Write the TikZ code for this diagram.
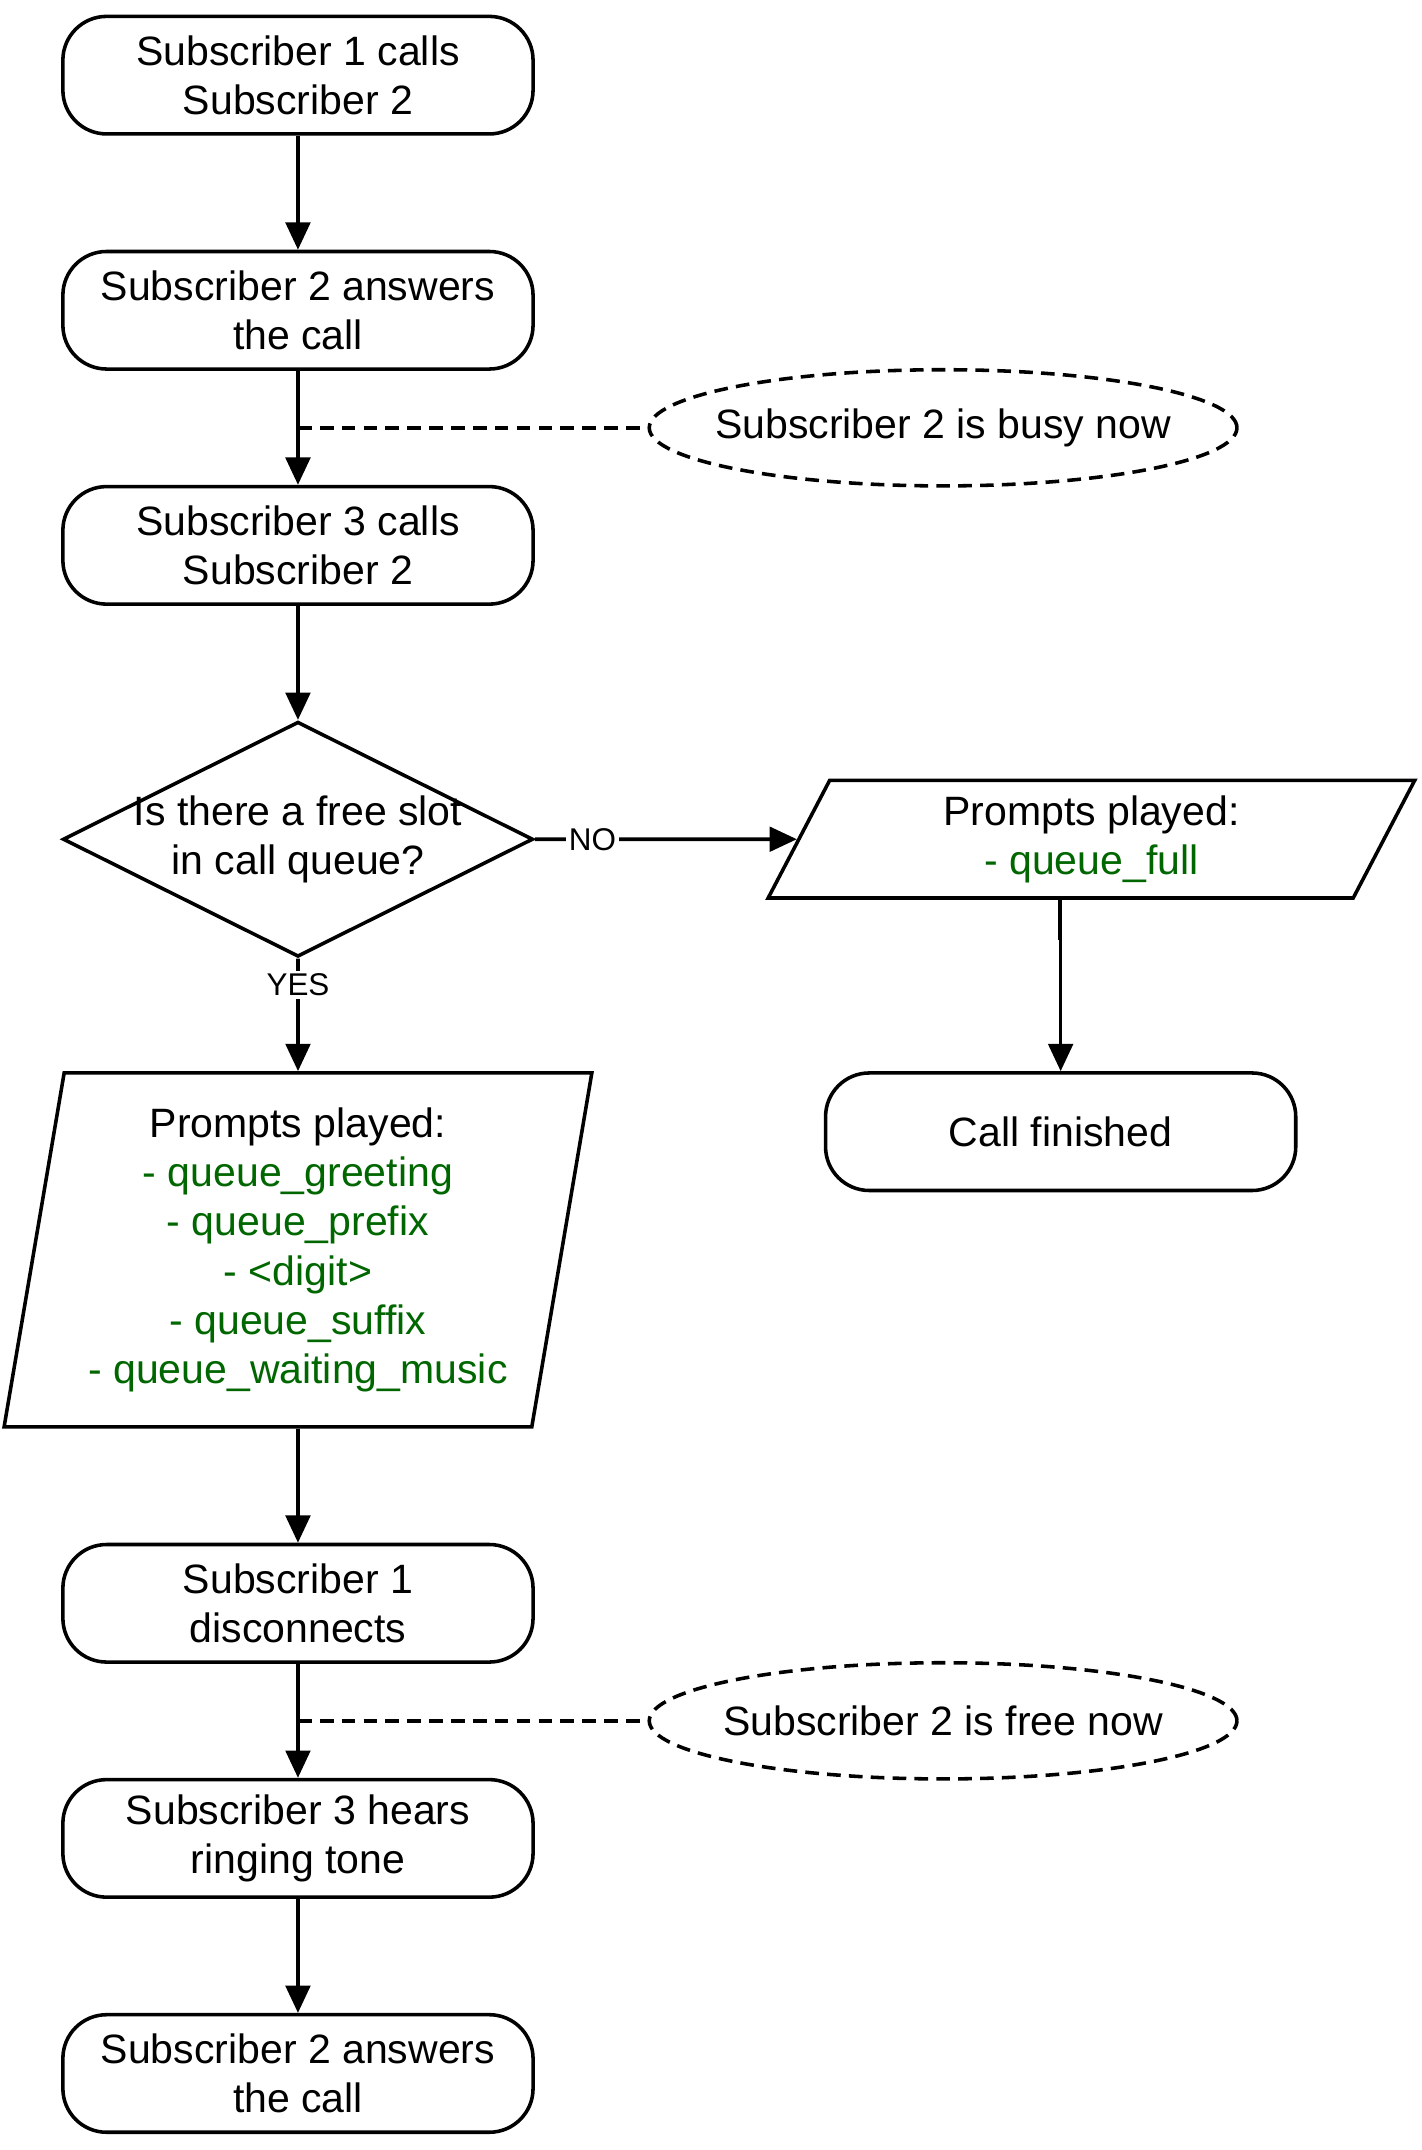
\documentclass[tikz,border=0pt]{standalone}
\usepackage{fontspec}
\setmainfont{Liberation Sans}
\usetikzlibrary{shapes.geometric,arrows.meta,calc}
\definecolor{promptgreen}{RGB}{0,102,0}

\begin{document}
\begin{tikzpicture}[x=0.5pt,y=-0.5pt,font=\fontsize{15}{18}\selectfont]
\useasboundingbox (0,0) rectangle (1040,1573);
\tikzset{BoxStyle/.style ={draw, line width=1.3pt, rounded corners=16pt, minimum width=172pt, minimum height=43pt, align=center, inner sep=2pt}}
\tikzset{DecisionStyle/.style ={draw, line width=1.3pt, diamond, minimum width=172pt, minimum height=86pt, inner sep=0}}
\tikzset{PromptStyle/.style ={draw, line width=1.3pt, trapezium, trapezium stretches body=true, align=center, inner ysep=2pt}}
\tikzset{NoteStyle/.style ={draw, line width=1.3pt, dash pattern=on 5pt off 3pt, ellipse, inner sep=0, minimum width=215pt, minimum height=42.5pt}}
\tikzset{EdgeStyle/.style ={line width=1.3pt, -{Triangle[length=10pt,width=9pt]}}}
\tikzset{NoteEdge/.style ={line width=1.3pt, dash pattern=on 5pt off 3pt}}
\tikzset{AnswerStyle/.style ={font=\fontsize{11.5}{13}\selectfont, fill=white, inner sep=1pt}}
\node[BoxStyle] (A) at (218,55) {Subscriber 1 calls\\Subscriber 2};
\node[BoxStyle] (B) at (218,227) {Subscriber 2 answers\\the call};
\node[BoxStyle] (C) at (218,399) {Subscriber 3 calls\\Subscriber 2};
\node[DecisionStyle, label={[align=center]center:Is there a free slot\\in call queue?}] (Q) at (218,614) {};
\node[PromptStyle, trapezium left angle=58, trapezium right angle=122, minimum width=236.5pt, minimum height=43pt] (P1) at (798.5,614) {Prompts played:\\\textcolor{promptgreen}{- queue\_full}};
\node[BoxStyle] (end) at (776,828) {Call finished};
\node[PromptStyle, trapezium left angle=78.5, trapezium right angle=101.5, minimum width=215pt, minimum height=129.5pt] (P2) at (218,914.5) {Prompts played:\\\color{promptgreen}- queue\_greeting\\\color{promptgreen}- queue\_prefix\\\color{promptgreen}- \textless digit\textgreater\\\color{promptgreen}- queue\_suffix\\\color{promptgreen}- queue\_waiting\_music};
\node[BoxStyle] (D) at (218,1173) {Subscriber 1\\disconnects};
\node[BoxStyle] (E) at (218,1345) {Subscriber 3 hears\\ringing tone};
\node[BoxStyle] (F) at (218,1517) {Subscriber 2 answers\\the call};
\node[NoteStyle, label=center:Subscriber 2 is busy now] (note1) at (690,313) {};
\node[NoteStyle, label=center:Subscriber 2 is free now] (note2) at (690,1259) {};
\coordinate (busy) at ($(B.south)!0.5!(C.north)$);
\coordinate (free) at ($(D.south)!0.5!(E.north)$);
\draw[EdgeStyle] (A) -- (B);
\draw[EdgeStyle] (B) -- (C);
\draw[EdgeStyle] (C) -- (Q);
\draw[EdgeStyle] (Q) -- node[AnswerStyle, pos=0.22] {NO} (P1);
\draw[EdgeStyle] (P1.bottom side) -- ++(0,28) -| (end);
\draw[EdgeStyle] (Q) -- node[AnswerStyle, pos=0.235] {YES} (P2);
\draw[EdgeStyle] (P2) -- (D);
\draw[EdgeStyle] (D) -- (E);
\draw[EdgeStyle] (E) -- (F);
\draw[NoteEdge] (busy) -- (note1);
\draw[NoteEdge] (free) -- (note2);
\end{tikzpicture}
\end{document}
